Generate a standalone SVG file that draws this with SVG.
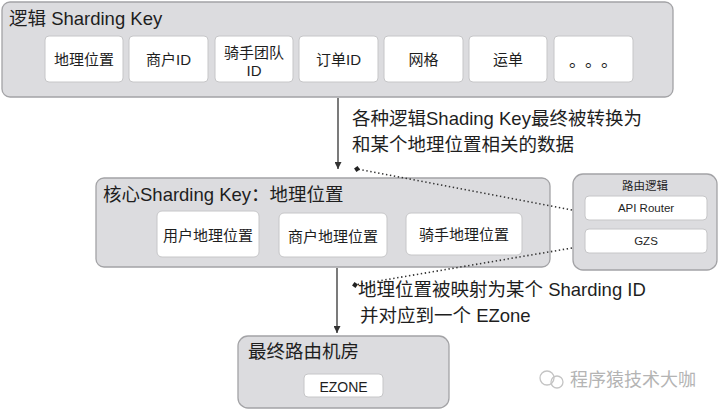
<svg xmlns="http://www.w3.org/2000/svg" width="720" height="412" viewBox="0 0 720 412">
<defs>
<style>
text{font-family:"Liberation Sans","Noto Sans CJK SC",sans-serif;fill:#1e1e1e}
.ctr{fill:#dcdcdf;stroke:#a3a3a6;stroke-width:1.3}
.box{fill:#ffffff;stroke:#c6c6c8;stroke-width:1}
.t{font-size:18.5px}
.b{font-size:15px;text-anchor:middle}
.s{font-size:11.5px;text-anchor:middle}
.a{font-size:18.5px}
.arrow{stroke:#333;stroke-width:1.3;fill:none}
.dot{stroke:#333;stroke-width:1.6;fill:none;stroke-dasharray:1.4 2.6}
.wm{font-size:18px;fill:#b4b4b4}
</style>
<marker id="ah" viewBox="0 0 8 8" refX="8" refY="4" markerWidth="7" markerHeight="7" markerUnits="userSpaceOnUse" orient="auto">
<path d="M0,0 L8,4 L0,8 z" fill="#333"/>
</marker>
<marker id="dm" viewBox="0 0 8 8" refX="4" refY="4" markerWidth="6" markerHeight="6" markerUnits="userSpaceOnUse" orient="auto">
<path d="M0,4 L4,0 L8,4 L4,8 z" fill="#222"/>
</marker>
</defs>

<g id="logic-keys">
<rect class="ctr" x="2" y="2" width="671" height="95" rx="8"/>
<text class="t" x="9" y="25">逻辑 Sharding Key</text>
</g>
<g id="k-geo"><rect class="box" x="45" y="36" width="78" height="46" rx="4"/><text class="b" x="84" y="64.5">地理位置</text></g>
<g id="k-merchant"><rect class="box" x="129" y="36" width="79" height="46" rx="4"/><text class="b" x="168.5" y="64.5">商户ID</text></g>
<g id="k-rider-team"><rect class="box" x="215" y="36" width="78" height="46" rx="4"/><text class="b" x="254" y="57.5">骑手团队</text><text class="b" x="254" y="75.5">ID</text></g>
<g id="k-order"><rect class="box" x="299" y="36" width="79" height="46" rx="4"/><text class="b" x="338.5" y="64.5">订单ID</text></g>
<g id="k-grid"><rect class="box" x="384" y="36" width="79" height="46" rx="4"/><text class="b" x="423.5" y="64.5">网格</text></g>
<g id="k-waybill"><rect class="box" x="469" y="36" width="78" height="46" rx="4"/><text class="b" x="508" y="64.5">运单</text></g>
<g id="k-more"><rect class="box" x="554" y="36" width="79" height="46" rx="4"/><text x="569 585 601" y="67" style="font-size:17px;font-family:'Noto Sans CJK SC',sans-serif">。。。</text></g>

<g id="core-key">
<rect class="ctr" x="96" y="178" width="454" height="89" rx="8"/>
<text class="t" x="103" y="201">核心Sharding Key：地理位置</text>
</g>
<g id="c-user"><rect class="box" x="157" y="211" width="102" height="46" rx="5"/><text class="b" x="208" y="241">用户地理位置</text></g>
<g id="c-merchant"><rect class="box" x="279" y="213" width="108" height="44" rx="5"/><text class="b" x="333" y="242">商户地理位置</text></g>
<g id="c-rider"><rect class="box" x="406" y="213" width="116" height="42" rx="5"/><text class="b" x="464" y="240">骑手地理位置</text></g>

<g id="routing-logic">
<rect class="ctr" x="573" y="174" width="144" height="96" rx="10"/>
<text class="s" x="645" y="190">路由逻辑</text>
</g>
<g id="api-router"><rect class="box" x="585" y="196" width="122" height="24" rx="4"/><text class="s" x="646" y="212">API Router</text></g>
<g id="gzs"><rect class="box" x="585" y="229" width="122" height="24" rx="4"/><text class="s" x="646" y="245">GZS</text></g>

<g id="final-room">
<rect class="ctr" x="238" y="336" width="211" height="72" rx="10"/>
<text class="t" x="248" y="358">最终路由机房</text>
</g>
<g id="ezone"><rect class="box" x="304" y="374" width="79" height="23" rx="4"/><text class="s" style="font-size:14px" x="343.5" y="391.5">EZONE</text></g>

<g id="connectors">
<line class="arrow" x1="338" y1="98" x2="338" y2="169" marker-end="url(#ah)"/>
<line class="arrow" x1="337" y1="268" x2="337" y2="333" marker-end="url(#ah)"/>
<line class="dot" x1="572" y1="210" x2="357" y2="169" marker-end="url(#dm)"/>
<line class="dot" x1="572" y1="248" x2="355" y2="285" marker-end="url(#dm)"/>
</g>

<g id="labels">
<text class="a" x="352" y="125">各种逻辑Shading Key最终被转换为</text>
<text class="a" x="352" y="151">和某个地理位置相关的数据</text>
<text class="a" x="358" y="296">地理位置被映射为某个 Sharding ID</text>
<text class="a" x="360" y="322">并对应到一个 EZone</text>
</g>

<g id="watermark">
<circle cx="547" cy="378" r="7" fill="none" stroke="#c4c4c4" stroke-width="1.3"/>
<circle cx="557" cy="382" r="6" fill="none" stroke="#c4c4c4" stroke-width="1.3"/>
<text class="wm" x="570" y="386">程序猿技术大咖</text>
</g>
</svg>
